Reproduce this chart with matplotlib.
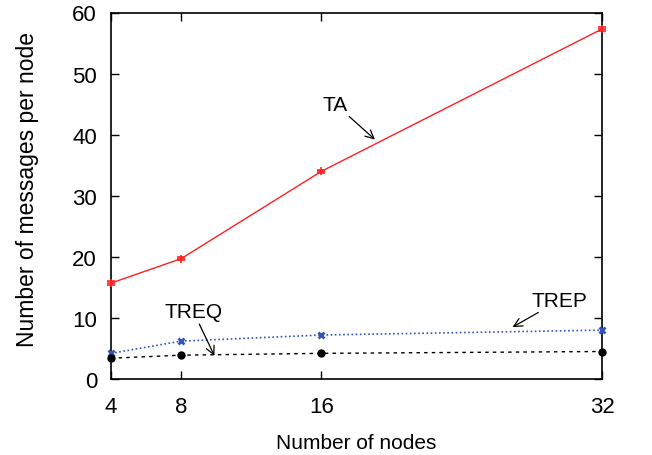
import matplotlib
matplotlib.use("Agg")
import matplotlib.pyplot as plt

plt.rcParams['font.family'] = ['Liberation Sans', 'DejaVu Sans']

nodes = [4, 8, 16, 32]
ta = [15.7, 19.7, 34.0, 57.3]
ta_err = [0.35, 0.2, 0.2, 0.35]
trep = [4.2, 6.2, 7.2, 8.0]
treq = [3.4, 3.9, 4.2, 4.5]
xticks = [4, 8, 16, 32]
yticks = [0, 10, 20, 30, 40, 50, 60]

fig = plt.figure(figsize=(6.52, 4.56), dpi=100)
ax = fig.add_axes([111/652, 1-380/456, (602-111)/652, (380-13.5)/456])

ax.errorbar(nodes, ta, yerr=ta_err, color='#ff2020', lw=1.0, marker='+', ms=6,
            mew=1.2, capsize=3, elinewidth=1.0, clip_on=False, zorder=3)
ax.plot(nodes, trep, color='#3355bb', lw=1.2, ls=(0, (1, 1.5)), marker='x', ms=5,
        mew=2, clip_on=False, zorder=3)
ax.plot(nodes, treq, color='black', lw=1.0, ls=(0, (2.5, 3)), marker='o', ms=5,
        clip_on=False, zorder=3)

arrow = dict(arrowstyle='->', color='black', lw=0.9, shrinkA=0, shrinkB=0)
ax.annotate('TA', xy=(19.05, 39.2), xytext=(16.8, 45.0), fontsize=15,
            ha='center', va='center', arrowprops=arrow)
ax.annotate('TREQ', xy=(9.9, 3.8), xytext=(8.7, 11.0), fontsize=15,
            ha='center', va='center', arrowprops=arrow)
ax.annotate('TREP', xy=(26.9, 8.5), xytext=(29.6, 12.9), fontsize=15,
            ha='center', va='center', arrowprops=arrow)

ax.set_xlim(4, 32)
ax.set_ylim(0, 60)
ax.set_xticks(xticks)
ax.set_yticks(yticks)
ax.tick_params(direction='in', top=True, right=True, length=6, width=1,
               labelsize=16)
ax.tick_params(axis='x', pad=12)
ax.tick_params(axis='y', pad=10)
for s in ax.spines.values():
    s.set_linewidth(1.2)
ax.set_xlabel('Number of nodes', fontsize=15, labelpad=12)
ax.set_ylabel('Number of messages per node', fontsize=16.5)
ax.yaxis.set_label_coords(-0.146, 0.52)

fig.savefig('out.png', dpi=100)
